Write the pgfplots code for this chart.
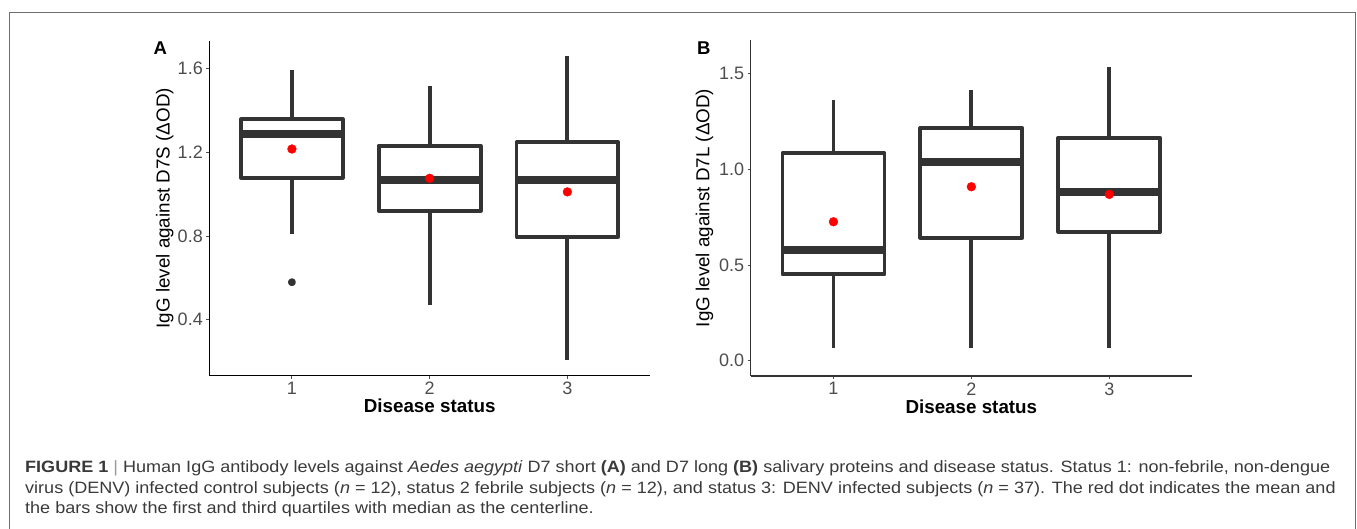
\documentclass[border=0pt]{standalone}
\usepackage{fontspec}
\setmainfont{Liberation Sans}
\newfontfamily\capfont[FakeStretch=1.1]{Liberation Sans}
\usepackage{pgfplots}
\pgfplotsset{compat=1.18}
\usepgfplotslibrary{statistics}
\definecolor{BoxGray}{HTML}{333333}
\definecolor{TickGray}{HTML}{4D4D4D}
\definecolor{FrameGray}{HTML}{6E6E6E}
\definecolor{CapText}{HTML}{3A3A3A}
\definecolor{BarGray}{HTML}{9A9A9A}
\definecolor{MeanRed}{HTML}{FF0000}

\pgfplotsset{
  igg/.style={
    scale only axis,
    anchor=south west,
    clip=false,
    xmin=0.4,xmax=3.6,
    xtick={1,2,3},
    axis x line*=bottom,
    axis y line*=left,
    tick align=outside,
    major tick length=3pt,
    tick style={color=TickGray,line width=1pt},
    /pgf/number format/assume math mode=true,
    tick label style={font=\fontsize{18}{18}\selectfont,color=TickGray},
    yticklabel style={/pgf/number format/.cd,fixed,fixed zerofill,precision=1},
    label style={font=\fontsize{18.8}{19}\selectfont,color=black},
    xlabel={\bfseries Disease status},
    boxplot/draw direction=y,
    boxplot/box extend=0.74,
    boxplot/whisker extend=0,
    boxplot/every median/.style={line width=7.6pt},
  },
  bx/.style={draw=BoxGray,fill=white,line width=3.8pt,line join=round,
    mark=*,mark size=2pt,mark options={fill=BoxGray,draw=none}},
  mean/.style={only marks,color=MeanRed,mark=*,mark size=4.4pt,
    mark options={fill=MeanRed,draw=none}},
}

\begin{document}
\begin{tikzpicture}[x=1pt,y=1pt]
\path[use as bounding box] (0,0) rectangle (1357,529);
\draw[color=FrameGray,line width=1.3pt] (9.3,-5) -- (9.3,516.5) -- (1355.3,516.5) -- (1355.3,-5);

% panel A: D7 short
\begin{axis}[igg,
  at={(209.3pt,153.3pt)},
  width=440.7pt,height=335pt,
  ymin=0.132,ymax=1.734,
  ytick={0.4,0.8,1.2,1.6},
  axis line style={black,line width=1.6pt,-},
  xlabel style={at={(axis description cs:0.5,-0.1104)},anchor=base},
  ylabel={IgG level against D7S (ΔOD)},
  ylabel style={at={(axis description cs:-0.0903,0.5)},anchor=base},
]
\addplot[bx,boxplot prepared={draw position=1,lower whisker=0.810,lower quartile=1.079,
  median=1.288,upper quartile=1.358,upper whisker=1.594}] coordinates {(0,0.579)};
\addplot[bx,boxplot prepared={draw position=2,lower whisker=0.469,lower quartile=0.920,
  median=1.068,upper quartile=1.232,upper whisker=1.519}] coordinates {};
\addplot[bx,boxplot prepared={draw position=3,lower whisker=0.208,lower quartile=0.797,
  median=1.069,upper quartile=1.248,upper whisker=1.661}] coordinates {};
\addplot[mean] coordinates {(1,1.216) (2,1.076) (3,1.011)};
\node[anchor=base west,inner sep=0pt] at (axis description cs:-0.127,0.960) {\fontsize{18.5}{18.5}\selectfont\bfseries A};
\end{axis}

% panel B: D7 long
\begin{axis}[igg,
  at={(750.7pt,153pt)},
  width=441.3pt,height=336pt,
  ymin=-0.080,ymax=1.676,
  ytick={0,0.5,1,1.5},
  axis line style={BoxGray,line width=1.1pt,-},
  xlabel style={at={(axis description cs:0.5,-0.111)},anchor=base},
  ylabel={IgG level against D7L (ΔOD)},
  ylabel style={at={(axis description cs:-0.0938,0.5)},anchor=base},
]
\addplot[bx,boxplot prepared={draw position=1,lower whisker=0.068,lower quartile=0.451,
  median=0.577,upper quartile=1.085,upper whisker=1.363}] coordinates {};
\addplot[bx,boxplot prepared={draw position=2,lower whisker=0.068,lower quartile=0.643,
  median=1.038,upper quartile=1.216,upper whisker=1.415}] coordinates {};
\addplot[bx,boxplot prepared={draw position=3,lower whisker=0.068,lower quartile=0.674,
  median=0.883,upper quartile=1.165,upper whisker=1.533}] coordinates {};
\addplot[mean] coordinates {(1,0.726) (2,0.909) (3,0.869)};
\node[anchor=base west,inner sep=0pt] at (axis description cs:-0.122,0.958) {\fontsize{18.5}{18.5}\selectfont\bfseries B};
\end{axis}

% caption
\begin{scope}[every node/.style={anchor=base west,inner sep=0pt,color=CapText,font=\capfont\fontsize{16.4}{17}\selectfont}]
\node at (25,56.3) {\textbf{FIGURE 1} {\color{BarGray}|} Human IgG antibody levels against \textit{Aedes aegypti} D7 short \textbf{(A)} and D7 long \textbf{(B)} salivary proteins and disease status. Status 1: non-febrile, non-dengue};
\node at (25,35.7) {virus (DENV) infected control subjects (\textit{n} = 12), status 2 febrile subjects (\textit{n} = 12), and status 3: DENV infected subjects (\textit{n} = 37). The red dot indicates the mean and};
\node at (25,15.7) {the bars show the first and third quartiles with median as the centerline.};
\end{scope}
\end{tikzpicture}
\end{document}
